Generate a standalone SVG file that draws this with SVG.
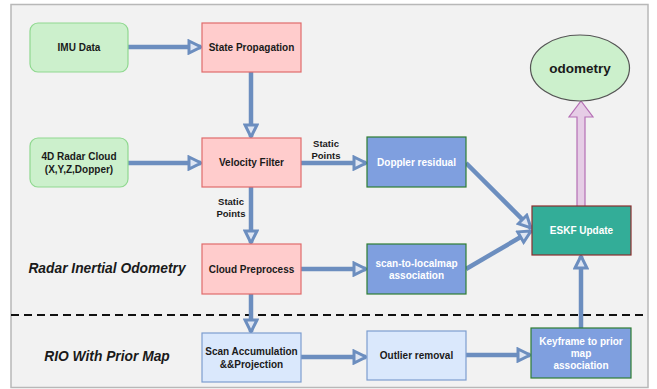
<svg xmlns="http://www.w3.org/2000/svg" width="657" height="389" viewBox="0 0 657 389">
<defs>
<marker id="ah" viewBox="0 0 16 16" refX="14" refY="8" markerWidth="16" markerHeight="16" markerUnits="userSpaceOnUse" orient="auto">
<path d="M2,2 L14,8 L2,14 Z" fill="#dfe6f3" stroke="#6c8ebf" stroke-width="3" stroke-linejoin="miter"/>
</marker>
</defs>
<style>
text{font-family:"Liberation Sans",Arial,sans-serif;font-weight:bold;text-anchor:middle;dominant-baseline:central}
.t{font-size:10px;fill:#1a1a1a}
.w{font-size:10px;fill:#ffffff}
.g{fill:#ccf0cc;stroke:#8fd88f;stroke-width:1.2}
.r{fill:#ffcccc;stroke:#e06b6b;stroke-width:1.2}
.b{fill:#7f9fdf;stroke:#2e7d32;stroke-width:1.2}
.lb{fill:#dae8fc;stroke:#7d9dcf;stroke-width:1.2}
.c{stroke:#6c8ebf;stroke-width:4.5;fill:none;marker-end:url(#ah)}
.s{font-size:9.5px;fill:#1a1a1a}
.it{font-size:13.8px;font-style:italic;fill:#1a1a1a}
</style>
<rect x="11" y="4.5" width="637" height="383" fill="#f2f2f2" stroke="#b8b8b8" stroke-width="1.5"/>
<line x1="11" y1="315" x2="648" y2="315" stroke="#111" stroke-width="2" stroke-dasharray="8,5"/>
<text class="it" x="107" y="268">Radar Inertial Odometry</text>
<text class="it" x="107" y="356">RIO With Prior Map</text>
<g id="connectors">
<path class="c" d="M128,47 H201"/>
<path class="c" d="M251,72 V137"/>
<path class="c" d="M128,163 H201"/>
<path class="c" d="M301,163 H366"/>
<path class="c" d="M251,187 V243"/>
<path class="c" d="M301,269 H366"/>
<path class="c" d="M466,163 L531,228"/>
<path class="c" d="M466,269 L531,231"/>
<path class="c" d="M251,294 V332"/>
<path class="c" d="M301,357 H366"/>
<path class="c" d="M466,355 H530"/>
<path class="c" d="M581,328 V256"/>
<path d="M577,206 V117 H569 L581,101 L593,117 H585 V206" fill="#e6cde6" stroke="#b56fb5" stroke-width="1.2"/>
<text class="s" x="326" y="143">Static<tspan x="326" dy="12">Points</tspan></text>
<text class="s" x="231" y="201">Static<tspan x="231" dy="12">Points</tspan></text>
</g>
<g id="imu"><rect class="g" x="30" y="23" width="98" height="49" rx="8"/><text class="t" x="79" y="47.5">IMU Data</text></g>
<g id="state"><rect class="r" x="202" y="23" width="99" height="49"/><text class="t" x="251.5" y="47.5">State Propagation</text></g>
<g id="radar"><rect class="g" x="30" y="138" width="98" height="49" rx="8"/><text class="t" x="79" y="156.5">4D Radar Cloud<tspan x="79" dy="12">(X,Y,Z,Dopper)</tspan></text></g>
<g id="velocity"><rect class="r" x="202" y="138" width="99" height="49"/><text class="t" x="251.5" y="162.5">Velocity Filter</text></g>
<g id="doppler"><rect class="b" x="367" y="137" width="99" height="50"/><text class="w" x="416.5" y="162">Doppler residual</text></g>
<g id="odometry"><ellipse cx="580" cy="68" rx="49.5" ry="33" fill="#ccf0cc" stroke="#555" stroke-width="1.2"/><text x="580" y="68" font-size="13.5px" fill="#1a1a1a">odometry</text></g>
<g id="cloud"><rect class="r" x="202" y="244" width="99" height="50"/><text class="t" x="251.5" y="269">Cloud Preprocess</text></g>
<g id="scanlocal"><rect class="b" x="367" y="244" width="99" height="50"/><text class="w" x="416.5" y="263">scan-to-localmap<tspan x="416.5" dy="12">association</tspan></text></g>
<g id="eskf"><rect x="532" y="206" width="99" height="49" fill="#33ad98" stroke="#8b2d2d" stroke-width="1.2"/><text class="w" x="581.5" y="230.5">ESKF Update</text></g>
<g id="scanacc"><rect class="lb" x="202" y="333" width="99" height="49"/><text class="t" x="251.5" y="351.5">Scan Accumulation<tspan x="251.5" dy="12">&amp;&amp;Projection</tspan></text></g>
<g id="outlier"><rect class="lb" x="367" y="331" width="99" height="49"/><text class="t" x="416.5" y="355.5">Outlier removal</text></g>
<g id="keyframe"><rect class="b" x="531" y="328" width="100" height="50"/><text class="w" x="581" y="341">Keyframe to prior<tspan x="581" dy="12">map</tspan><tspan x="581" dy="12">association</tspan></text></g>
</svg>
